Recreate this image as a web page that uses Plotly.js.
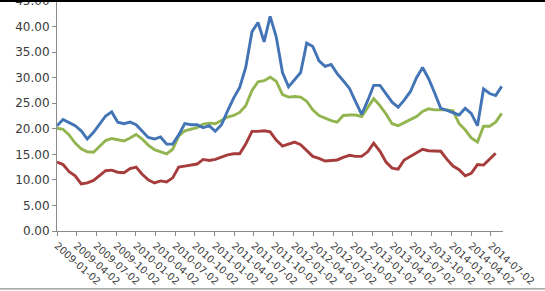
<!DOCTYPE html>
<html>
<head>
<meta charset="utf-8">
<script src="https://cdn.plot.ly/plotly-3.0.1.min.js"></script>
<style>html,body{margin:0;padding:0;background:#fff;}#chart{width:545px;height:291px;}</style>
</head>
<body>
<div id="chart"></div>
<script>
// Four-weekly readings from 2009-01-02 to 2014-08
var startDate = '2009-01-02';
var stepDays = 28.19;

var blueSeries = [20.6,21.8,21.2,20.6,19.6,18.0,19.3,20.9,22.5,23.3,
  21.3,21.0,21.3,20.8,19.6,18.3,18.0,18.4,17.0,17.0,
  18.8,21.0,20.8,20.8,20.2,20.6,19.5,20.8,23.5,26.0,
  28.1,32.0,39.0,40.8,37.0,42.0,38.0,31.0,28.2,29.5,
  31.0,36.8,36.1,33.3,32.2,32.6,30.8,29.4,27.9,25.3,
  22.8,25.5,28.5,28.5,26.8,25.2,24.2,25.6,27.3,30.0,
  32.0,29.8,27.0,24.0,23.6,23.2,22.7,24.0,23.0,20.6,
  27.8,26.9,26.5,28.3];

var greenSeries = [20.1,19.9,18.8,17.2,16.1,15.5,15.4,16.6,17.7,18.1,
  17.8,17.6,18.2,18.9,18.0,16.8,15.9,15.5,15.1,16.0,
  18.6,19.6,19.9,20.2,20.9,21.1,21.0,21.6,22.3,22.6,
  23.2,24.5,27.5,29.2,29.4,30.1,29.3,26.7,26.2,26.3,
  26.2,25.4,23.7,22.6,22.1,21.6,21.3,22.6,22.7,22.7,
  22.4,24.2,25.9,24.5,22.9,21.0,20.6,21.2,21.8,22.4,
  23.4,23.9,23.7,23.7,23.7,23.5,21.0,19.8,18.2,17.4,
  20.5,20.5,21.3,23.0];

var redSeries = [13.5,13.0,11.6,10.8,9.2,9.4,9.9,10.8,11.8,11.9,
  11.5,11.4,12.2,12.5,11.1,10.0,9.4,9.8,9.6,10.4,
  12.5,12.7,12.9,13.1,14.0,13.8,14.0,14.5,14.9,15.1,
  15.1,17.0,19.5,19.5,19.6,19.4,17.8,16.6,17.0,17.4,
  16.9,15.7,14.6,14.2,13.7,13.8,13.9,14.4,14.8,14.6,
  14.6,15.5,17.2,15.6,13.5,12.3,12.1,13.9,14.6,15.3,
  16.0,15.7,15.6,15.6,14.0,12.7,12.0,10.8,11.3,13.0,
  12.9,14.0,15.2];

var yTickVals = [0,5,10,15,20,25,30,35,40,45];

function buildDates(n){
  var t0 = Date.UTC(2009,0,2);
  var out = [];
  for (var i=0;i<n;i++){
    var d = new Date(t0 + Math.round(i*stepDays*86400000));
    out.push(d.toISOString().slice(0,10));
  }
  return out;
}

function mk(vals, color){
  return {x: buildDates(vals.length), y: vals, type:'scatter', mode:'lines',
    line:{color:color, width:2.9}, hoverinfo:'skip', showlegend:false};
}

var traces = [
  mk(redSeries, '#A63D3C'),
  mk(greenSeries, '#92B550'),
  mk(blueSeries, '#4374B5')
];

var axisColor = '#8a8a8a';
var fontCol = '#3a3a3a';

var layout = {
  width:545, height:291,
  margin:{l:57, r:42, t:1, b:60, pad:0},
  paper_bgcolor:'#ffffff', plot_bgcolor:'#ffffff',
  font:{family:'DejaVu Sans, Verdana, sans-serif', size:11, color:fontCol},
  xaxis:{
    type:'date', range:['2009-01-02','2014-08-27'],
    tickmode:'linear', tick0:startDate, dtick:'M3', tickformat:'%Y-%m-%d',
    tickangle:42, ticks:'outside', ticklen:4, tickcolor:axisColor,
    showline:true, linecolor:axisColor, linewidth:1,
    showgrid:false, zeroline:false, ticklabeloverflow:'allow',
    tickfont:{size:10, color:fontCol}
  },
  yaxis:{
    range:[0,45], tickmode:'array', tickvals:yTickVals,
    ticktext: yTickVals.map(function(v){return v.toFixed(2);}),
    ticks:'outside', ticklen:4, tickcolor:axisColor,
    showline:true, linecolor:axisColor, linewidth:1,
    showgrid:false, zeroline:false, ticklabeloverflow:'allow',
    tickfont:{size:12, color:fontCol}
  },
  shapes:[
    {type:'line', xref:'paper', yref:'paper', x0:-0.2, x1:1.2, y0:1.0, y1:1.0,
     line:{color:'#000000', width:2}},
    {type:'line', xref:'paper', yref:'paper', x0:-0.2, x1:1.2, y0:-0.252, y1:-0.252,
     line:{color:'#909090', width:1.2}}
  ]
};

Plotly.newPlot('chart', traces, layout, {staticPlot:true, displayModeBar:false});
</script>
</body>
</html>
